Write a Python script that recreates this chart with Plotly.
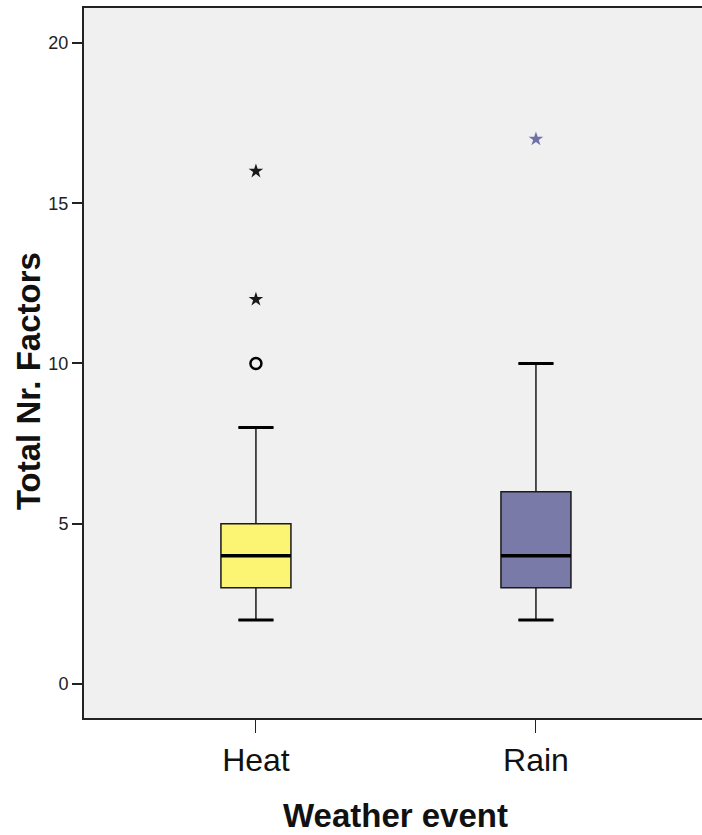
import plotly.graph_objects as go

categories = ["Heat", "Rain"]
positions = [0, 1]
q1 = [3, 3]
median = [4, 4]
q3 = [5, 6]
lower_fence = [2, 2]
upper_fence = [8, 10]
box_colors = ["#FBF573", "#7A7AA8"]
star_colors = ["#1a1a1a", "#7070A8"]

# outliers: (category index, value)
circle_outliers_x = [0]
circle_outliers_y = [10]
extreme_outliers_x = [0, 0, 1]
extreme_outliers_y = [12, 16, 17]

yticks = [0, 5, 10, 15, 20]

BOX_W = 0.25
CAP_W = BOX_W * 0.5

fig = go.Figure()

for i, cat in enumerate(categories):
    fig.add_trace(go.Box(
        x=[positions[i]], q1=[q1[i]], median=[median[i]], q3=[q3[i]],
        lowerfence=[lower_fence[i]], upperfence=[upper_fence[i]],
        width=BOX_W, whiskerwidth=0.5,
        fillcolor=box_colors[i],
        line=dict(color="#1a1a1a", width=1.5),
        boxpoints=False, name=cat, showlegend=False, hoverinfo="skip",
    ))
    # thick median line
    fig.add_trace(go.Scatter(
        x=[positions[i] - BOX_W / 2, positions[i] + BOX_W / 2],
        y=[median[i], median[i]], mode="lines",
        line=dict(color="#000000", width=3.5), showlegend=False, hoverinfo="skip",
    ))
    # thick whisker caps
    for v in (lower_fence[i], upper_fence[i]):
        fig.add_trace(go.Scatter(
            x=[positions[i] - CAP_W / 2, positions[i] + CAP_W / 2],
            y=[v, v], mode="lines",
            line=dict(color="#000000", width=3), showlegend=False, hoverinfo="skip",
        ))

fig.add_trace(go.Scatter(
    x=[positions[i] for i in circle_outliers_x], y=circle_outliers_y, mode="markers",
    marker=dict(symbol="circle-open", size=11, color="#000000", line=dict(width=2.5)),
    showlegend=False, hoverinfo="skip",
))
fig.add_trace(go.Scatter(
    x=[positions[i] for i in extreme_outliers_x], y=extreme_outliers_y, mode="markers",
    marker=dict(symbol="star", size=11, color=[star_colors[i] for i in extreme_outliers_x],
                line=dict(width=0)),
    showlegend=False, hoverinfo="skip",
))

font_family = "Liberation Sans, Arial, sans-serif"

fig.update_layout(
    width=702, height=835,
    margin=dict(l=84, r=0, t=8, b=117),
    paper_bgcolor="white", plot_bgcolor="#F0F0F0",
    font=dict(family=font_family, color="#1a1a1a"),
    xaxis=dict(
        range=[-0.614, 1.593], tickmode="array", tickvals=positions, ticktext=categories,
        ticks="outside", ticklen=13, tickwidth=1.2, tickcolor="#222",
        tickfont=dict(size=32, color="#111"),
        showline=True, linecolor="#222", linewidth=2, mirror=True,
        showgrid=False, zeroline=False,
    ),
    yaxis=dict(
        range=[-1.061, 21.09], tickmode="array", tickvals=yticks,
        ticks="outside", ticklen=10, tickwidth=1.5, tickcolor="#222",
        tickfont=dict(size=18, color="#222"),
        showline=True, linecolor="#222", linewidth=2, mirror=False,
        showgrid=False, zeroline=False,
    ),
    annotations=[
        dict(text="<b>Weather event</b>", xref="x", yref="paper", x=0.5, y=0,
             yshift=-97, xanchor="center", yanchor="middle", showarrow=False,
             font=dict(size=33, color="#111", family=font_family)),
        dict(text="<b>Total Nr. Factors</b>", xref="paper", yref="y", x=0, y=9.45,
             xshift=-56, xanchor="center", yanchor="middle", textangle=-90, showarrow=False,
             font=dict(size=33, color="#111", family=font_family)),
    ],
)

fig.write_html(
    "out.html",
    config={"displayModeBar": False},
    post_script="document.body.style.margin='0';document.body.style.overflow='hidden';",
)
